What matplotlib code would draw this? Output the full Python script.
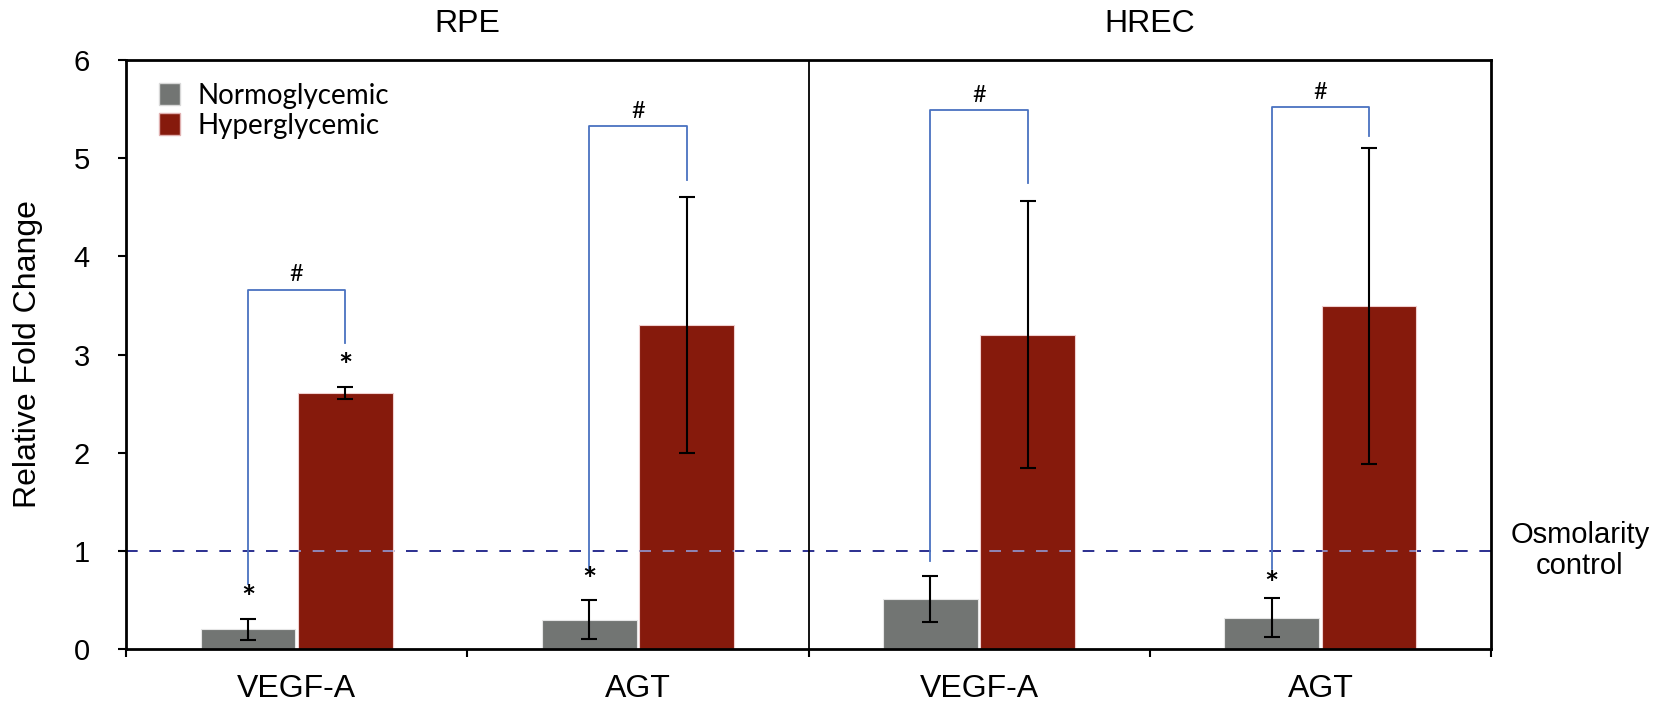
import matplotlib
matplotlib.use("Agg")
import matplotlib.pyplot as plt
from matplotlib.patches import Patch
import numpy as np

# ---- data ----
genes = ["VEGF-A", "AGT", "VEGF-A", "AGT"]
cell_types = ["RPE", "HREC"]
series_names = ["Normoglycemic", "Hyperglycemic"]
normo = [0.20, 0.30, 0.51, 0.32]
normo_err = [0.11, 0.20, 0.23, 0.20]
hyper = [2.61, 3.30, 3.20, 3.49]
hyper_err = [0.06, 1.30, 1.36, 1.61]
osm_control = 1.0
# significance brackets (#): top level, left leg end, right leg end
br_top = [3.66, 5.33, 5.49, 5.52]
br_left_end = [0.66, 0.815, 0.90, 0.82]
br_right_end = [3.12, 4.78, 4.75, 5.23]
# asterisks (y positions, None = none)
star_normo = [0.50, 0.685, None, 0.65]
star_hyper = [2.87, None, None, None]

GRAY = "#727573"
RED = "#861a0c"
NAVY = "#2b2f8f"
BLUE = "#4a72c0"
SANS = ["Liberation Sans", "DejaVu Sans"]
CAL = ["Lato", "DejaVu Sans"]

plt.rcParams["font.family"] = SANS

fig = plt.figure(figsize=(16.62, 7.10), dpi=100)
ax = fig.add_axes([126 / 1662, 1 - 649 / 710, (1491 - 126) / 1662, (649 - 60) / 710])

x = np.arange(len(genes)) + 0.5
off = 0.1425
w = 0.278

bars_n = ax.bar(x - off, normo, w, color=GRAY, edgecolor="#e6e6e6", linewidth=0.8, zorder=2)
bars_h = ax.bar(x + off, hyper, w, color=RED, edgecolor="#f0d0d0", linewidth=0.8, zorder=2)
ax.errorbar(x - off, normo, yerr=normo_err, fmt="none", ecolor="black",
            elinewidth=1.5, capsize=5.5, capthick=1.5, zorder=4)
ax.errorbar(x + off, hyper, yerr=hyper_err, fmt="none", ecolor="black",
            elinewidth=1.5, capsize=5.5, capthick=1.5, zorder=4)

# osmolarity control line
ax.axhline(osm_control, color=NAVY, lw=1.4, dashes=(6, 6), zorder=1)
for b in bars_h:
    ln = ax.axhline(osm_control, color="#8f86b8", lw=1.4, dashes=(6, 6), zorder=3)
    ln.set_clip_path(b)

# brackets
for i in range(len(genes)):
    xl, xr = x[i] - off, x[i] + off
    ax.plot([xl, xl, xr, xr], [br_left_end[i], br_top[i], br_top[i], br_right_end[i]],
            color=BLUE, lw=1.3, zorder=3)
    ax.text((xl + xr) / 2, br_top[i] + 0.15, "#", ha="center", va="center",
            fontsize=17, family=CAL)
    if star_normo[i] is not None:
        ax.text(xl, star_normo[i], "*", ha="center", va="center", fontsize=24,
                family=CAL, fontweight="bold")
    if star_hyper[i] is not None:
        ax.text(xr, star_hyper[i], "*", ha="center", va="center", fontsize=24,
                family=CAL, fontweight="bold")

# divider
ax.axvline(2, color="black", lw=1.3, zorder=3)

ax.set_xlim(0, 4)
ax.set_ylim(0, 6)
ax.set_yticks(range(0, 7))
ax.set_xticks(range(0, 5))
ax.set_xticklabels([])
ax.set_xticks(x, minor=True)
ax.set_xticklabels(genes, minor=True, fontsize=23)
ax.tick_params(axis="x", which="minor", length=0, pad=18)
ax.tick_params(axis="x", which="major", length=6, width=1.5, direction="out")
ax.tick_params(axis="y", length=6, width=1.5, direction="out", labelsize=21, pad=20)
for s in ax.spines.values():
    s.set_linewidth(2.0)
    s.set_color("black")

ax.set_ylabel("Relative Fold Change", fontsize=23, labelpad=22)

# section titles
fig.text(467 / 1662, 1 - 24 / 710, cell_types[0], ha="center", va="center", fontsize=23)
fig.text(1150 / 1662, 1 - 24 / 710, cell_types[1], ha="center", va="center", fontsize=23)

# osmolarity annotation
ax.annotate("Osmolarity\ncontrol", xy=(1.0, osm_control), xycoords=("axes fraction", "data"),
            xytext=(64, 0), textcoords="offset points", ha="center", va="center",
            fontsize=21, linespacing=1.15, annotation_clip=False)

handles = [Patch(facecolor=GRAY, edgecolor="#d8d8d8", label=series_names[0]),
           Patch(facecolor=RED, edgecolor="#e0b0b0", label=series_names[1])]
ax.legend(handles=handles, loc="upper left", bbox_to_anchor=(0.012, 0.99), frameon=False,
          prop={"family": CAL, "size": 20}, handlelength=0.75, handleheight=0.8,
          handletextpad=0.65, labelspacing=0.15, borderaxespad=0.2)

fig.savefig("out.png", dpi=100)
